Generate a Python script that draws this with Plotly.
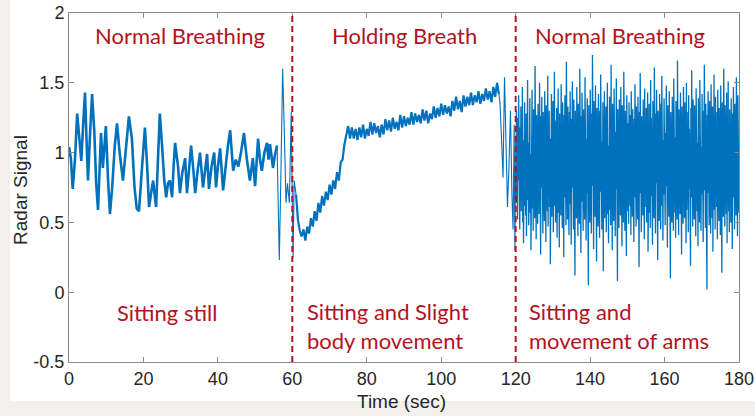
import numpy as np
import plotly.graph_objects as go

# ---------------- data ----------------
# Segment 1: normal breathing, sitting still (0-56 s)
seg1_t = [0.0, 0.5, 1.0, 1.6, 2.2, 2.7, 3.3, 3.8, 4.3, 4.7, 5.1, 5.6, 6.2, 6.8, 7.3, 7.8,
          8.2, 8.6, 9.1, 9.9, 10.5, 11.0, 11.6, 12.3, 12.9, 13.6, 14.5, 15.3, 16.1, 16.9,
          17.6, 18.2, 18.8, 19.5, 20.4, 21.0, 21.5, 22.0, 22.6, 23.1, 23.4, 23.9, 24.4,
          25.0, 25.6, 26.1, 26.6, 27.1, 27.7, 28.1, 28.5, 29.3, 29.8, 30.4, 31.2, 31.7,
          32.3, 32.8, 33.4, 33.9, 34.6, 35.2, 36.0, 36.5, 37.1, 37.6, 38.3, 39.0, 39.5,
          40.0, 40.6, 41.4, 42.0, 42.7, 43.3, 44.1, 44.8, 45.5, 46.2, 47.0, 47.8, 48.6,
          49.4, 50.0, 50.8, 51.3, 51.8, 52.5, 53.2, 53.6, 54.0, 54.8, 55.3, 55.9]
seg1_v = [1.04, 0.96, 0.74, 0.95, 1.28, 1.12, 0.94, 1.20, 1.43, 1.10, 0.80, 1.10, 1.42, 1.15, 0.78, 0.59,
          0.95, 1.14, 0.89, 1.19, 0.80, 0.56, 0.75, 1.05, 1.21, 1.00, 0.80, 1.05, 1.26, 1.10,
          0.75, 0.60, 0.58, 0.85, 1.18, 0.90, 0.61, 0.70, 0.80, 0.68, 0.61, 0.95, 1.28,
          1.05, 0.80, 0.68, 0.78, 0.80, 0.68, 0.90, 1.07, 0.90, 0.71, 0.85, 0.96, 0.71,
          0.90, 1.05, 0.88, 0.71, 0.88, 1.00, 0.75, 0.88, 0.99, 0.74, 0.90, 1.00, 0.75,
          0.90, 1.03, 0.73, 0.90, 1.05, 1.16, 0.87, 0.95, 0.90, 1.00, 1.14, 0.95, 0.80,
          0.96, 0.76, 1.10, 0.95, 0.87, 1.00, 1.07, 0.95, 1.06, 0.89, 0.98, 1.05]

# Transition around 60 s
tr1_t = [55.9, 56.2, 56.5, 56.9, 57.4, 57.8, 58.3, 58.7, 59.2, 59.7, 60.0, 60.2, 60.5, 61.0]
tr1_v = [1.05, 0.60, 0.23, 0.80, 1.60, 1.20, 0.64, 0.78, 0.64, 1.29, 0.60, 0.25, 0.80, 0.70]

# Segment 2: holding breath (61-115.5 s, every 0.5 s)
seg2_v = [0.70, 0.52, 0.44, 0.40, 0.45, 0.37, 0.47, 0.42, 0.53, 0.47,
          0.58, 0.51, 0.64, 0.57, 0.69, 0.62, 0.72, 0.66, 0.77, 0.70,
          0.80, 0.74, 0.86, 0.80, 0.93, 0.95, 1.06, 1.12, 1.19, 1.10,
          1.18, 1.10, 1.17, 1.09, 1.18, 1.11, 1.20, 1.10, 1.17, 1.12,
          1.22, 1.13, 1.21, 1.14, 1.19, 1.11, 1.20, 1.13, 1.24, 1.16,
          1.23, 1.15, 1.25, 1.17, 1.22, 1.16, 1.27, 1.18, 1.26, 1.19,
          1.25, 1.20, 1.29, 1.20, 1.28, 1.22, 1.27, 1.21, 1.31, 1.23,
          1.30, 1.21, 1.28, 1.24, 1.33, 1.25, 1.32, 1.26, 1.35, 1.27,
          1.34, 1.28, 1.33, 1.26, 1.37, 1.30, 1.40, 1.31, 1.37, 1.29,
          1.41, 1.33, 1.40, 1.34, 1.43, 1.34, 1.41, 1.36, 1.44, 1.35,
          1.42, 1.37, 1.46, 1.38, 1.44, 1.36, 1.47, 1.40, 1.50, 1.42]
seg2_start, seg2_end = 61.0, 115.5

# Transition around 120 s
tr2_t = [115.5, 115.8, 116.2, 116.6, 117.0, 117.4, 117.8, 118.2, 118.6, 119.0, 119.3, 119.6, 119.8, 120.0]
tr2_v = [1.42, 1.35, 1.10, 0.82, 1.54, 1.00, 0.61, 0.90, 1.30, 0.70, 0.45, 1.20, 0.30, 0.90]

# Segment 3: normal breathing with arm movement (120-180 s)
seg3_v = [
    1.12, 0.64, 1.30, 0.71, 0.98, 0.52, 1.25, 0.80, 1.41, 0.60, 1.05, 0.45, 1.18, 0.77, 1.33, 0.58, 0.96, 0.69, 1.47, 0.50,
    1.09, 0.35, 1.22, 0.74, 1.36, 0.62, 1.01, 0.55, 1.28, 0.40, 1.15, 0.82, 1.52, 0.66, 1.07, 0.48, 1.24, 0.71, 1.39, 0.57,
    0.99, 0.30, 1.20, 0.68, 1.45, 0.60, 1.11, 0.44, 1.31, 0.79, 1.04, 0.53, 1.62, 0.70, 1.17, 0.38, 1.27, 0.63, 1.08, 0.49,
    1.35, 0.72, 1.19, 0.56, 1.50, 0.65, 1.02, 0.27, 1.26, 0.75, 1.40, 0.59, 1.13, 0.42, 1.29, 0.81, 1.06, 0.51, 1.44, 0.66,
    1.21, 0.36, 1.34, 0.73, 1.00, 0.58, 1.55, 0.47, 1.16, 0.78, 1.30, 0.61, 1.10, 0.20, 1.25, 0.69, 1.42, 0.54, 1.03, 0.76,
    1.37, 0.43, 1.14, 0.67, 1.58, 0.62, 1.23, 0.50, 1.09, 0.74, 1.32, 0.39, 1.19, 0.70, 1.46, 0.57, 1.05, 0.32, 1.28, 0.80,
    1.12, 0.55, 1.49, 0.64, 1.18, 0.46, 1.36, 0.72, 1.01, 0.25, 1.27, 0.68, 1.41, 0.59, 1.08, 0.48, 1.65, 0.71, 1.22, 0.52,
    1.33, 0.77, 1.06, 0.41, 1.29, 0.63, 1.44, 0.56, 1.15, 0.34, 1.24, 0.75, 1.51, 0.60, 1.11, 0.45, 1.38, 0.69, 1.20, 0.12,
    1.30, 0.66, 1.17, 0.53, 1.47, 0.73, 1.04, 0.40, 1.35, 0.61, 1.21, 0.49, 1.60, 0.70, 1.14, 0.28, 1.26, 0.65, 1.43, 0.58,
    1.07, 0.44, 1.31, 0.78, 1.18, 0.52, 1.54, 0.62, 1.25, 0.37, 1.10, 0.71, 1.39, 0.55, 1.22, 0.05, 1.34, 0.67, 1.16, 0.50,
    1.45, 0.63, 1.09, 0.42, 1.28, 0.76, 1.70, 0.58, 1.20, 0.31, 1.37, 0.69, 1.13, 0.54, 1.48, 0.64, 1.02, 0.22, 1.32, 0.74,
    1.19, 0.47, 1.42, 0.60, 1.11, 0.39, 1.30, 0.72, 1.56, 0.57, 1.23, 0.45, 1.08, 0.68, 1.36, 0.15, 1.27, 0.61, 1.44, 0.53,
    1.14, 0.70, 1.33, 0.43, 1.21, 0.66, 1.50, 0.56, 1.05, 0.35, 1.29, 0.77, 1.40, 0.59, 1.17, 0.48, 1.63, 0.65, 1.24, 0.30,
    1.35, 0.71, 1.10, 0.51, 1.46, 0.62, 1.26, 0.40, 1.15, 0.74, 1.53, 0.58, 1.20, 0.08, 1.31, 0.67, 1.07, 0.46, 1.38, 0.69,
    1.22, 0.55, 1.47, 0.63, 1.12, 0.33, 1.34, 0.76, 1.25, 0.50, 1.58, 0.64, 1.09, 0.44, 1.30, 0.72, 1.18, 0.26, 1.41, 0.60,
    0.95, 0.58, 1.21, 0.49, 1.36, 0.70, 1.08, 0.62, 1.27, 0.41, 1.44, 0.66, 1.13, 0.54, 1.31, 0.75, 1.02, 0.36, 1.24, 0.68,
    1.49, 0.59, 1.17, 0.47, 1.33, 0.79, 1.06, 0.52, 1.40, 0.63, 1.19, 0.18, 1.29, 0.71, 1.57, 0.60, 1.11, 0.43, 1.26, 0.74,
    1.03, 0.55, 1.38, 0.67, 1.22, 0.38, 1.46, 0.61, 1.14, 0.80, 1.32, 0.50, 1.08, 0.65, 1.43, 0.29, 1.20, 0.72, 1.35, 0.57,
    1.16, 0.46, 1.52, 0.69, 1.25, 0.60, 1.04, 0.34, 1.37, 0.73, 1.18, 0.53, 1.61, 0.64, 1.10, 0.42, 1.28, 0.78, 1.45, 0.58,
    1.07, 0.23, 1.30, 0.67, 1.19, 0.51, 1.42, 0.74, 1.12, 0.45, 1.35, 0.62, 1.55, 0.56, 1.23, 0.37, 1.09, 0.70, 1.39, 0.61,
    1.26, 0.48, 1.14, 0.76, 1.48, 0.59, 1.01, 0.32, 1.34, 0.66, 1.21, 0.54, 1.44, 0.73, 1.15, 0.10, 1.29, 0.63, 1.06, 0.50,
    1.40, 0.70, 1.18, 0.44, 1.53, 0.62, 1.24, 0.57, 1.11, 0.39, 1.37, 0.75, 1.27, 0.52, 1.66, 0.65, 1.13, 0.41, 1.31, 0.68,
    1.05, 0.56, 1.43, 0.60, 1.20, 0.27, 1.33, 0.77, 1.16, 0.49, 1.47, 0.64, 1.08, 0.53, 1.36, 0.71, 1.23, 0.35, 1.50, 0.59,
    1.12, 0.66, 1.29, 0.43, 1.41, 0.74, 1.17, 0.55, 1.02, 0.19, 1.32, 0.68, 1.59, 0.61, 1.22, 0.47, 1.38, 0.72, 1.10, 0.52,
    1.34, 0.63, 1.19, 0.40, 1.46, 0.69, 1.25, 0.58, 1.07, 0.33, 1.39, 0.76, 1.14, 0.50, 1.52, 0.65, 1.28, 0.44, 1.04, 0.70,
    1.42, 0.57, 1.21, 0.36, 1.30, 0.73, 1.63, 0.60, 1.15, 0.46, 1.35, 0.67, 1.09, 0.02, 1.27, 0.71, 1.44, 0.55, 1.18, 0.48,
    1.37, 0.64, 1.06, 0.42, 1.49, 0.75, 1.23, 0.53, 1.33, 0.29, 1.13, 0.68, 1.56, 0.59, 1.20, 0.45, 1.40, 0.72, 1.11, 0.61,
    1.29, 0.38, 1.45, 0.66, 1.16, 0.51, 1.32, 0.77, 1.03, 0.41, 1.48, 0.62, 1.24, 0.14, 1.36, 0.70, 1.10, 0.54, 1.60, 0.63,
    1.19, 0.47, 1.34, 0.73, 1.08, 0.56, 1.43, 0.35, 1.26, 0.69, 1.51, 0.58, 1.14, 0.43, 1.31, 0.76, 1.22, 0.50, 1.39, 0.65,
    1.05, 0.31, 1.28, 0.68, 1.47, 0.60, 1.17, 0.45, 1.35, 0.74, 1.12, 0.55, 1.54, 0.63, 1.24, 0.40, 1.41, 0.71, 1.20, 0.57,
]
seg3_start, seg3_end = 120.0, 180.0

phase_lines = [60, 120]
top_labels = ["Normal Breathing", "Holding Breath", "Normal Breathing"]
top_label_x = [29.7, 90.2, 148.0]
bottom_labels = ["Sitting still", "Sitting and Slight<br>body movement", "Sitting and<br>movement of arms"]
bottom_label_x = [12.4, 63.4, 123.0]

x_ticks = [0, 20, 40, 60, 80, 100, 120, 140, 160, 180]
y_ticks = [-0.5, 0, 0.5, 1, 1.5, 2]
y_tick_text = ["-0.5", "0", "0.5", "1", "1.5", "2"]

# ---------------- figure ----------------
BLUE = "#0072BD"
RED = "#B3121E"

fig = go.Figure()
seg2_t = np.linspace(seg2_start, seg2_end, len(seg2_v))
seg3_t = np.linspace(seg3_start, seg3_end, len(seg3_v))

fig.add_trace(go.Scatter(x=seg1_t, y=seg1_v, mode="lines", line=dict(color=BLUE, width=2.6), hoverinfo="skip"))
fig.add_trace(go.Scatter(x=tr1_t, y=tr1_v, mode="lines", line=dict(color=BLUE, width=1.1), hoverinfo="skip"))
fig.add_trace(go.Scatter(x=seg2_t, y=seg2_v, mode="lines", line=dict(color=BLUE, width=2.2), hoverinfo="skip"))
fig.add_trace(go.Scatter(x=tr2_t, y=tr2_v, mode="lines", line=dict(color=BLUE, width=1.1), hoverinfo="skip"))
fig.add_trace(go.Scatter(x=seg3_t, y=seg3_v, mode="lines", line=dict(color=BLUE, width=1.3), hoverinfo="skip"))

for xv in phase_lines:
    fig.add_shape(type="line", xref="x", yref="y", x0=xv, x1=xv, y0=-0.5, y1=2,
                  line=dict(color=RED, width=2, dash="6px,4px"), layer="above")

# white panel behind the chart, faint background outside it
fig.add_shape(type="rect", xref="paper", yref="paper", x0=-0.088, x1=1.05, y0=-0.112, y1=1.06,
              fillcolor="white", line=dict(width=0), layer="below")

label_font = dict(family="Lato, Carlito, sans-serif", size=22, color=RED)
for txt, xv in zip(top_labels, top_label_x):
    fig.add_annotation(x=xv, y=1.836, xref="x", yref="y", text=txt, showarrow=False,
                       xanchor="center", yanchor="middle", font=label_font)
fig.add_annotation(x=bottom_label_x[0], y=-0.143, xref="x", yref="y", text=bottom_labels[0],
                   showarrow=False, xanchor="left", yanchor="middle", font=label_font)
for txt, xv in zip(bottom_labels[1:], bottom_label_x[1:]):
    fig.add_annotation(x=xv, y=-0.243, xref="x", yref="y", text=txt, showarrow=False,
                       xanchor="left", yanchor="middle", align="left", font=label_font)

tick_font = dict(family="Liberation Sans, Arial, sans-serif", size=18, color="#262626")
title_font = dict(family="Liberation Sans, Arial, sans-serif", size=19, color="#262626")
fig.add_annotation(x=-0.0716, y=0.493, xref="paper", yref="paper", text="Radar Signal",
                   textangle=-90, showarrow=False, xanchor="center", yanchor="middle", font=title_font)
fig.add_annotation(x=0.497, y=-0.112, xref="paper", yref="paper", text="Time (sec)",
                   showarrow=False, xanchor="center", yanchor="middle", font=title_font)

fig.update_xaxes(range=[0, 180], tickvals=x_ticks, ticks="inside", ticklen=5, tickcolor="#8a8a8a",
                 showline=True, linecolor="#8a8a8a", linewidth=1, mirror="ticks", automargin=False,
                 showgrid=False, zeroline=False, tickfont=tick_font)
fig.update_yaxes(range=[-0.5, 2], tickvals=y_ticks, ticktext=y_tick_text, ticks="inside", ticklen=5,
                 tickcolor="#8a8a8a", showline=True, linecolor="#8a8a8a", linewidth=1, mirror="ticks",
                 automargin=False, showgrid=False, zeroline=False, tickfont=tick_font)

fig.update_layout(width=755, height=416, margin=dict(l=69, r=16, t=13, b=54),
                  paper_bgcolor="#F3EFED", plot_bgcolor="white", showlegend=False)

fig.write_html("out.html", config={"displayModeBar": False},
               post_script="document.body.style.margin='0';")
